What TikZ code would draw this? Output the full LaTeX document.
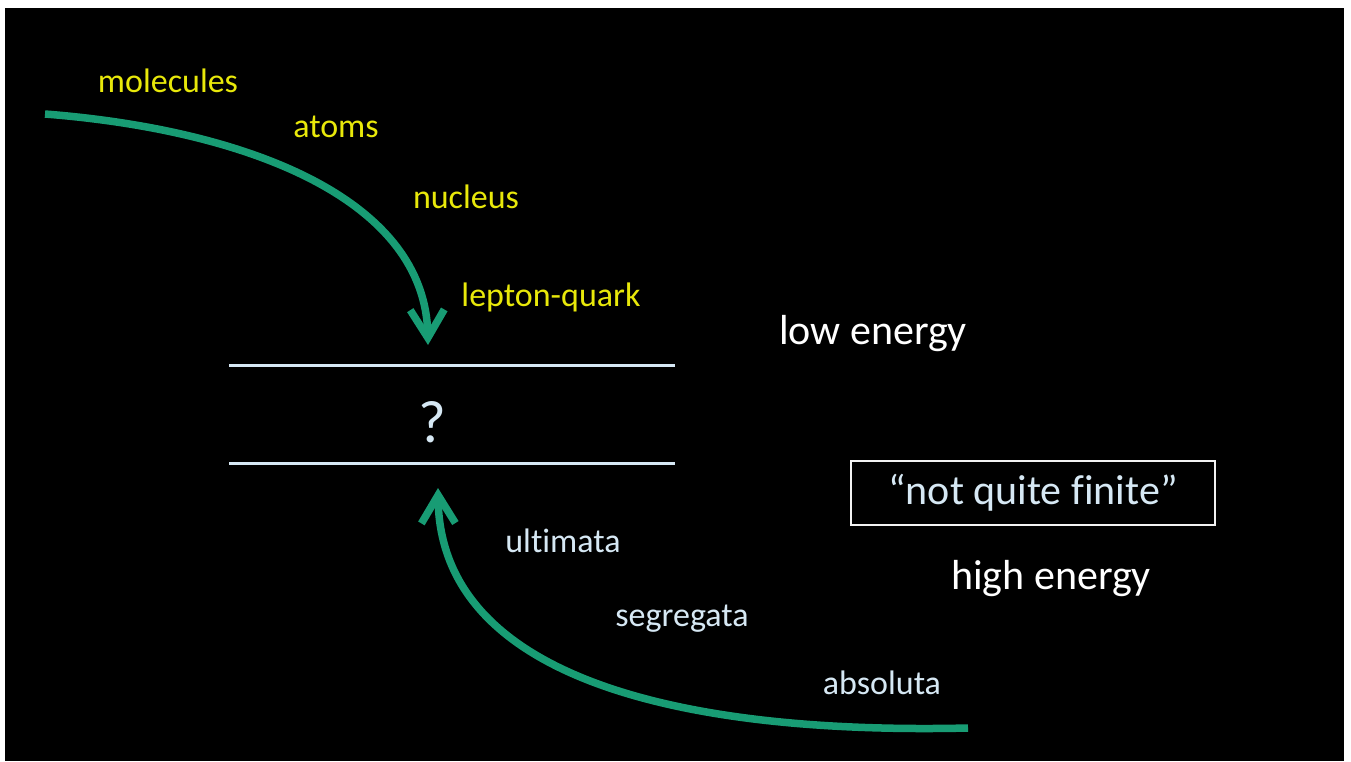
\documentclass[tikz,border=0pt]{standalone}
\usepackage{fontspec}
\setmainfont[Ligatures=NoCommon]{Carlito}
\usetikzlibrary{arrows.meta}
\definecolor{arrgreen}{RGB}{24,156,116}
\definecolor{lblyellow}{RGB}{232,232,10}
\definecolor{lblblue}{RGB}{214,232,244}
\definecolor{linecol}{RGB}{214,232,244}
\tikzset{
  ylabel/.style={text=lblyellow, font=\fontsize{34}{40}\selectfont, inner sep=0pt, anchor=center},
  blabel/.style={text=lblblue, font=\fontsize{34}{40}\selectfont, inner sep=0pt, anchor=center},
  wlabel/.style={text=white, font=\fontsize{42}{48}\selectfont, inner sep=0pt, anchor=center},
  flow/.style={draw=arrgreen, line width=7.5pt, -{Straight Barb[length=28pt,width=34pt]}},
  level/.style={draw=linecol, line width=3pt},
}
\begin{document}
\begin{tikzpicture}[x=1pt,y=-1pt]
\useasboundingbox (0,0) rectangle (1351,761);
\fill[white] (0,0) rectangle (1351,761);
\fill[black] (5,8) rectangle (1344,761);
% levels
\coordinate (l1a) at (229,365); \coordinate (l1b) at (675,365);
\coordinate (l2a) at (229,463); \coordinate (l2b) at (675,463);
\draw[level] (l1a) -- (l1b);
\draw[level] (l2a) -- (l2b);
\node[text=lblblue, font=\fontsize{60}{66}\selectfont, inner sep=0pt] (q) at (432,422) {?};
% top labels
\node[ylabel] (mol) at (168,81) {molecules};
\node[ylabel] (atm) at (336,127) {atoms};
\node[ylabel] (nuc) at (466,197) {nucleus};
\node[ylabel] (lep) at (551,297) {lepton-quark};
% bottom labels
\node[blabel] (ult) at (563,541) {ultimata};
\node[blabel] (seg) at (682,619) {segregata};
\node[blabel] (abs) at (882,683) {absoluta};
% right labels
\node[wlabel] (low) at (873,334) {low energy};
\node[wlabel] (high) at (1051,579) {high energy};
\node[draw=white!90!gray, line width=1.5pt, text=lblblue, font=\fontsize{42}{48}\selectfont,
      minimum width=364pt, minimum height=64pt, inner sep=0pt] (nqf) at (1033,493) {“not quite finite”};
% arrows
\coordinate (a1s) at (45,114);
\coordinate (a1e) at (428,345);
\coordinate (a2s) at (968,728);
\coordinate (a2e) at (438,488);
\draw[flow] (a1s) .. controls (250,130) and (425,200) .. (a1e);
\draw[flow] (a2s) .. controls (660,735) and (440,670) .. (a2e);
\end{tikzpicture}
\end{document}
